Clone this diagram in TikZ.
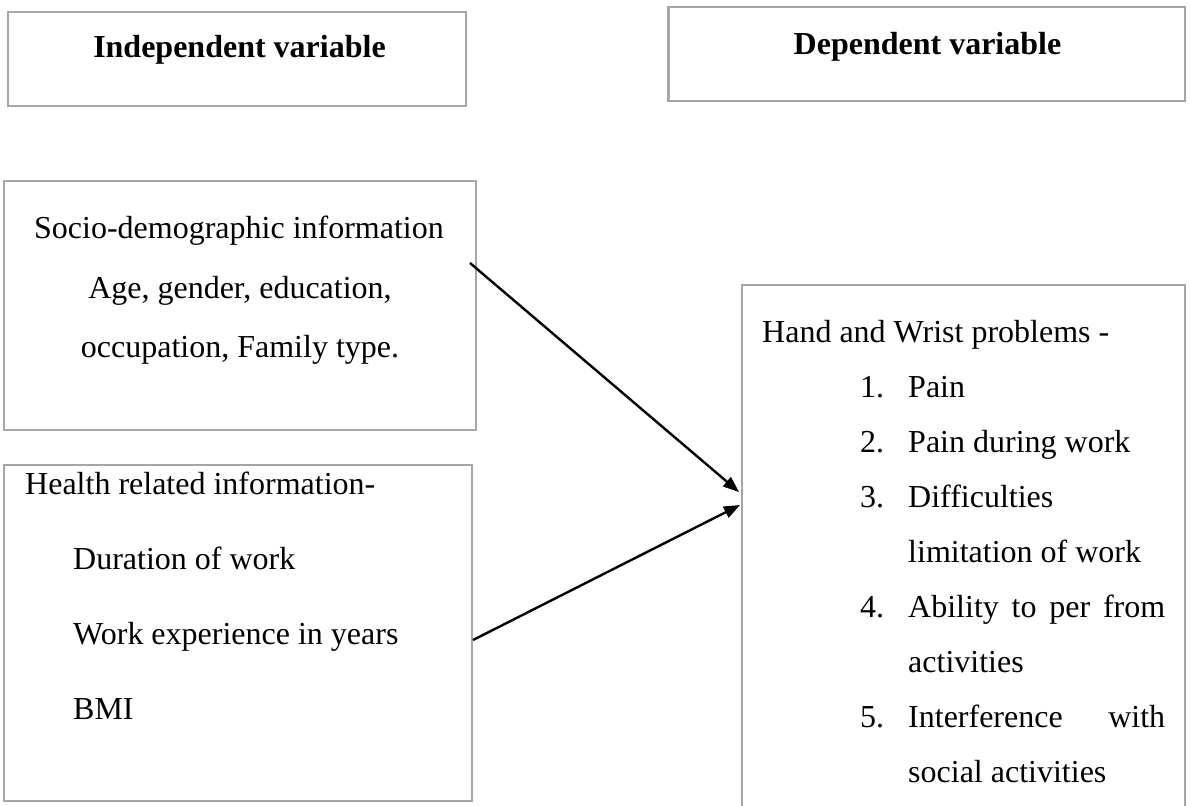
\documentclass[tikz,border=0pt]{standalone}
\usepackage{fontspec}
\setmainfont{Liberation Serif}
\usetikzlibrary{arrows.meta}
\definecolor{boxgray}{HTML}{A6A6A6}
\tikzset{
  frame/.style={draw=boxgray, line width=2.5pt, inner sep=0pt},
  txt/.style={inner sep=0pt, font=\fontsize{32}{38}\selectfont},
  ttl/.style={inner sep=0pt, font=\fontsize{32}{38}\selectfont\bfseries},
  conn/.style={line width=2.4pt, -{Triangle[length=16pt,width=12pt]}}
}
\begin{document}
\begin{tikzpicture}[x=1pt,y=-1pt]
\useasboundingbox (0,0) rectangle (1190,805);
% title boxes
\node[frame, minimum width=458pt, minimum height=94pt] (indep) at (237,59) {};
\node[ttl, anchor=base] (indept) at (239.5,58) {Independent variable};
\node[frame, minimum width=516.5pt, minimum height=94pt] (dep) at (926.75,54) {};
\node[ttl, anchor=base] (dept) at (927.5,55) {Dependent variable};
% socio-demographic box
\node[frame, minimum width=472pt, minimum height=249pt] (socio) at (240,305.5) {};
\node[txt, anchor=base] (s1) at (239,238) {Socio-demographic information};
\node[txt, anchor=base] (s2) at (240,298) {Age, gender, education,};
\node[txt, anchor=base] (s3) at (240,357) {occupation, Family type.};
% health box
\node[frame, minimum width=468pt, minimum height=336pt] (health) at (238,633) {};
\node[txt, anchor=base west] (h1) at (25,494) {Health related information-};
\node[txt, anchor=base west] (h2) at (73,569) {Duration of work};
\node[txt, anchor=base west] (h3) at (73,644) {Work experience in years};
\node[txt, anchor=base west] (h4) at (73,719) {BMI};
% outcome box (open at the bottom edge of the picture)
\node[inner sep=0pt, minimum width=443pt, minimum height=540pt] (hand) at (963.5,555) {};
\draw[draw=boxgray, line width=2.5pt] (hand.south west) -- (hand.north west) -- (hand.north east) -- (hand.south east);
\node[txt, anchor=base west] (p0) at (762,342) {Hand and Wrist problems -};
\node[txt, anchor=base west] (n1) at (860,397) {1.};
\node[txt, anchor=base west] (p1) at (908,397) {Pain};
\node[txt, anchor=base west] (n2) at (860,452) {2.};
\node[txt, anchor=base west] (p2) at (908,452) {Pain during work};
\node[txt, anchor=base west] (n3) at (860,507) {3.};
\node[txt, anchor=base west] (p3) at (908,507) {Difficulties};
\node[txt, anchor=base west] (p3b) at (908,562) {limitation of work};
\node[txt, anchor=base west] (n4) at (860,617) {4.};
\node[txt, anchor=base west] (p4) at (908,617) {\makebox[257pt][s]{Ability to per from}};
\node[txt, anchor=base west] (p4b) at (908,672) {activities};
\node[txt, anchor=base west] (n5) at (860,727) {5.};
\node[txt, anchor=base west] (p5) at (908,727) {\makebox[257pt][s]{Interference with}};
\node[txt, anchor=base west] (p5b) at (908,782) {social activities};
% connectors
\coordinate (a1s) at (470,263);
\coordinate (a1e) at (739,492);
\coordinate (a2s) at (473,640);
\coordinate (a2e) at (740,505);
\draw[conn] (a1s) -- (a1e);
\draw[conn] (a2s) -- (a2e);
\end{tikzpicture}
\end{document}
